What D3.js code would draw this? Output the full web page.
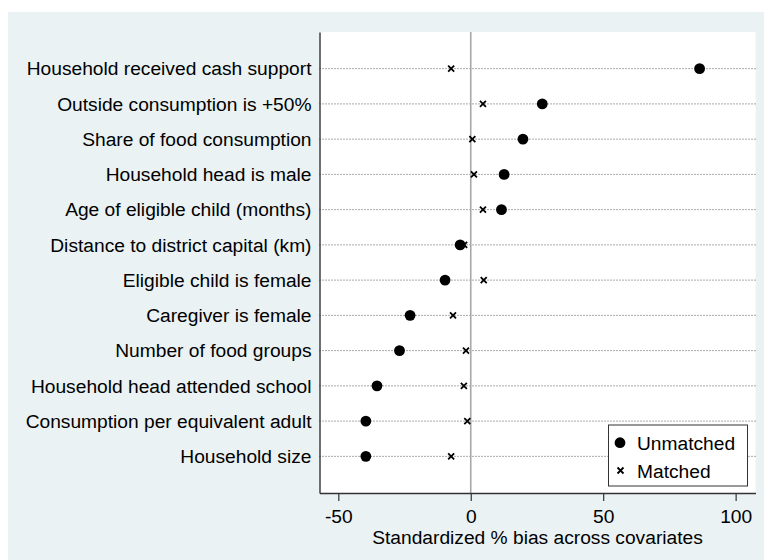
<!DOCTYPE html>
<html>
<head>
<meta charset="utf-8">
<script src="https://cdn.jsdelivr.net/npm/d3@7"></script>
<style>
  html, body { margin: 0; padding: 0; background: #ffffff; }
  svg { display: block; font-family: "Liberation Sans", Arial, sans-serif; }
</style>
</head>
<body>
<svg id="chart" width="764" height="560"></svg>
<script>
// Covariates, top to bottom
const covariates = [
  "Household received cash support",
  "Outside consumption is +50%",
  "Share of food consumption",
  "Household head is male",
  "Age of eligible child (months)",
  "Distance to district capital (km)",
  "Eligible child is female",
  "Caregiver is female",
  "Number of food groups",
  "Household head attended school",
  "Consumption per equivalent adult",
  "Household size"
];

// Standardized % bias before matching
const unmatched = [86.4, 27.0, 19.7, 12.6, 11.6, -4.0, -9.7, -22.9, -26.9, -35.4, -39.6, -39.6];

// Standardized % bias after matching
const matched = [-7.4, 4.6, 0.6, 1.2, 4.6, -2.5, 4.9, -6.7, -1.8, -2.6, -1.3, -7.4];

const xTicks = [-50, 0, 50, 100];
const xTitle = "Standardized % bias across covariates";
const legendLabels = ["Unmatched", "Matched"];

const FONT = 19.2;
const svg = d3.select("#chart");
const W = 764, H = 560;

// Graph region background
svg.append("rect")
  .attr("x", 8).attr("y", 12)
  .attr("width", W - 8).attr("height", H - 12)
  .attr("fill", "#eaf2f3");

const plot = { left: 319.5, right: 755.5, top: 32, bottom: 493 };

svg.append("rect")
  .attr("x", plot.left).attr("y", plot.top)
  .attr("width", plot.right - plot.left).attr("height", plot.bottom - plot.top)
  .attr("fill", "#ffffff");

const x = d3.scaleLinear().domain([-57.1, 107.5]).range([plot.left, plot.right]);
const y = d3.scalePoint().domain(covariates).range([plot.top, plot.bottom]).padding(1.04);

// Dotted guide lines per covariate
svg.append("g").selectAll("line")
  .data(covariates)
  .join("line")
  .attr("x1", plot.left).attr("x2", plot.right)
  .attr("y1", d => y(d)).attr("y2", d => y(d))
  .attr("stroke", "#555")
  .attr("stroke-width", 1)
  .attr("stroke-dasharray", "1,2");

// Reference line at zero bias
svg.append("line")
  .attr("x1", x(0)).attr("x2", x(0))
  .attr("y1", plot.top).attr("y2", plot.bottom)
  .attr("stroke", "#a8a8a8")
  .attr("stroke-width", 1.6);

// Y axis: covariate labels
const yAxis = d3.axisLeft(y).tickSize(0).tickPadding(8);
const gy = svg.append("g")
  .attr("transform", `translate(${plot.left},0)`)
  .call(yAxis);
gy.select(".domain").attr("stroke", "#333").attr("stroke-width", 1.4);
gy.selectAll("text")
  .attr("font-size", FONT)
  .attr("fill", "#000")
  .attr("font-family", "'Liberation Sans', Arial, sans-serif");

// X axis
const xAxis = d3.axisBottom(x).tickValues(xTicks).tickSize(8).tickPadding(8)
  .tickSizeOuter(0).tickFormat(d3.format("d"));
const gx = svg.append("g")
  .attr("transform", `translate(0,${plot.bottom})`)
  .call(xAxis);
gx.select(".domain").attr("stroke", "#333").attr("stroke-width", 1.4);
gx.selectAll(".tick line").attr("stroke", "#333").attr("stroke-width", 1.2);
gx.selectAll("text")
  .attr("font-size", FONT)
  .attr("fill", "#000")
  .attr("font-family", "'Liberation Sans', Arial, sans-serif")
  .text(d => d < 0 ? "-" + Math.abs(d) : d);

svg.append("text")
  .attr("x", (plot.left + plot.right) / 2)
  .attr("y", 543.5)
  .attr("text-anchor", "middle")
  .attr("font-size", FONT)
  .attr("fill", "#000")
  .text(xTitle);

// Cross marker path
const cross = s => `M${-s},${-s}L${s},${s}M${-s},${s}L${s},${-s}`;

// Matched markers
svg.append("g").selectAll("path")
  .data(matched)
  .join("path")
  .attr("transform", (d, i) => `translate(${x(d)},${y(covariates[i])})`)
  .attr("d", cross(3))
  .attr("stroke", "#000")
  .attr("stroke-width", 1.8)
  .attr("fill", "none");

// Unmatched markers
svg.append("g").selectAll("circle")
  .data(unmatched)
  .join("circle")
  .attr("cx", d => x(d))
  .attr("cy", (d, i) => y(covariates[i]))
  .attr("r", 5.4)
  .attr("fill", "#000");

// Legend
const lg = svg.append("g");
lg.append("rect")
  .attr("x", 608.5).attr("y", 425)
  .attr("width", 139).attr("height", 61)
  .attr("fill", "#fff")
  .attr("stroke", "#333")
  .attr("stroke-width", 1);
lg.append("circle").attr("cx", 620).attr("cy", 442.7).attr("r", 5.4).attr("fill", "#000");
lg.append("path")
  .attr("transform", "translate(620.5,470.5)")
  .attr("d", cross(3))
  .attr("stroke", "#000").attr("stroke-width", 1.8);
lg.selectAll("text.lab")
  .data(legendLabels)
  .join("text")
  .attr("class", "lab")
  .attr("x", 637)
  .attr("y", (d, i) => 449.5 + i * 28)
  .attr("font-size", FONT)
  .attr("fill", "#000")
  .text(d => d);
</script>
</body>
</html>
